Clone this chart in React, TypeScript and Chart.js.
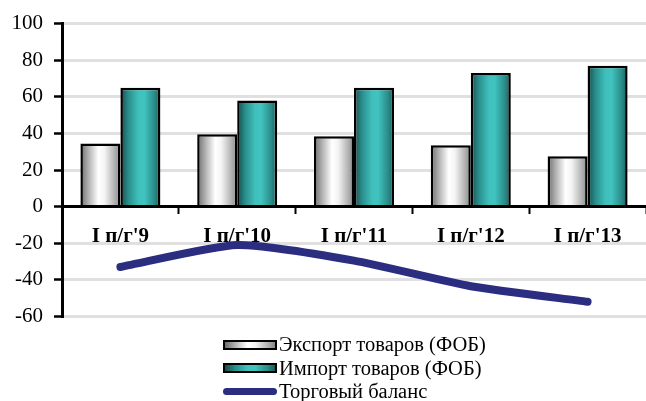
import React, { useEffect, useRef } from 'react';
import { Chart, registerables } from 'chart.js';

Chart.register(...registerables);

const categories = ["I п/г'9", "I п/г'10", "I п/г'11", "I п/г'12", "I п/г'13"];
const exportValues = [34.5, 39.5, 38.5, 33.5, 27.5];
const importValues = [65, 58, 65, 73, 77];
const balanceValues = [-33, -21, -29.5, -43.5, -52];
const seriesNames = ['Экспорт товаров (ФОБ)', 'Импорт товаров (ФОБ)', 'Торговый баланс'];
const yMin = -60;
const yMax = 100;
const yStep = 20;

const greyStops: [number, string][] = [
  [0, '#6c6c6c'],
  [0.2, '#b0b0b0'],
  [0.45, '#ffffff'],
  [0.6, '#f4f4f4'],
  [0.85, '#b3b3b3'],
  [1, '#888888'],
];
const tealStops: [number, string][] = [
  [0, '#164c4b'],
  [0.2, '#2a8e8b'],
  [0.45, '#3fc0bc'],
  [0.6, '#41c3bf'],
  [0.85, '#2a8c89'],
  [1, '#1b5c5a'],
];
const lineColor = '#2b2e80';
const serif = "'Liberation Serif', 'Times New Roman', serif";

const cssGradient = (stops: [number, string][]) =>
  'linear-gradient(to right, ' + stops.map(([o, c]) => `${c} ${o * 100}%`).join(', ') + ')';

const gradientPlugin = {
  id: 'barGradients',
  beforeDatasetsDraw(chart: any) {
    const ctx = chart.ctx;
    [0, 1].forEach((di) => {
      const meta = chart.getDatasetMeta(di);
      const stops = di === 0 ? greyStops : tealStops;
      meta.data.forEach((el: any) => {
        const { x, width } = el.getProps(['x', 'width'], true);
        const g = ctx.createLinearGradient(x - width / 2, 0, x + width / 2, 0);
        stops.forEach(([o, c]) => g.addColorStop(o, c));
        el.options = { ...el.options, backgroundColor: g };
      });
    });
  },
};

export default function App() {
  const canvasRef = useRef<HTMLCanvasElement | null>(null);

  useEffect(() => {
    const canvas = canvasRef.current;
    if (!canvas) return;
    const chart = new Chart(canvas, {
      type: 'bar',
      data: {
        labels: categories,
        datasets: [
          {
            type: 'bar',
            label: seriesNames[0],
            data: exportValues,
            backgroundColor: '#cccccc',
            borderColor: '#000',
            borderWidth: 2.5,
            categoryPercentage: 0.685,
            barPercentage: 1,
            order: 1,
          },
          {
            type: 'bar',
            label: seriesNames[1],
            data: importValues,
            backgroundColor: '#3fc0bc',
            borderColor: '#000',
            borderWidth: 2.5,
            categoryPercentage: 0.685,
            barPercentage: 1,
            order: 2,
          },
          {
            type: 'line',
            label: seriesNames[2],
            data: balanceValues,
            borderColor: lineColor,
            backgroundColor: lineColor,
            borderWidth: 8,
            borderCapStyle: 'round',
            borderJoinStyle: 'round',
            pointRadius: 0,
            tension: 0.2,
            fill: false,
            order: 0,
          } as any,
        ],
      },
      options: {
        responsive: true,
        maintainAspectRatio: false,
        animation: false,
        layout: { padding: { left: 0, right: 0, top: 20, bottom: 16 } },
        plugins: {
          legend: { display: false },
          tooltip: { enabled: false },
        },
        scales: {
          x: {
            position: { y: 0 } as any,
            offset: true,
            grid: {
              offset: true,
              drawOnChartArea: false,
              drawTicks: true,
              tickLength: 6,
              tickWidth: 2,
              tickColor: '#000',
              color: '#000',
            },
            border: { color: '#000', width: 3 },
            ticks: {
              color: '#000',
              font: { family: serif, size: 21, weight: 'bold' },
              padding: 11,
              maxRotation: 0,
              autoSkip: false,
            },
          },
          y: {
            min: yMin,
            max: yMax,
            ticks: {
              stepSize: yStep,
              color: '#000',
              font: { family: serif, size: 21 },
              padding: 11,
            },
            grid: {
              color: (c: any) => (c.tick && c.tick.value === 0 ? 'rgba(0,0,0,0)' : '#e0e0e0'),
              lineWidth: 3,
              tickColor: '#000',
              tickLength: 8,
              tickWidth: 2.5,
            },
            border: { color: '#000', width: 3 },
            afterFit: (s: any) => {
              s.width = 62;
            },
          },
        },
      },
      plugins: [gradientPlugin],
    });
    return () => chart.destroy();
  }, []);

  const markers = [
    { kind: 'box', bg: cssGradient(greyStops) },
    { kind: 'box', bg: cssGradient(tealStops) },
    { kind: 'line', bg: lineColor },
  ];

  return (
    <div style={{ position: 'absolute', left: 0, top: 0, width: 646, height: 401, background: '#fff' }}>
      <div style={{ position: 'absolute', left: 0, top: 0, width: 646, height: 340 }}>
        <canvas ref={canvasRef} />
      </div>
      <div style={{ position: 'absolute', left: 223, top: 333, fontFamily: serif, fontSize: 20.5, color: '#000' }}>
        {seriesNames.map((name, i) => (
          <div key={name} style={{ display: 'flex', alignItems: 'center', height: 23.5, whiteSpace: 'nowrap' }}>
            {markers[i].kind === 'box' ? (
              <div
                style={{
                  width: 54,
                  height: 10,
                  boxSizing: 'border-box',
                  border: '2.5px solid #000',
                  background: markers[i].bg,
                  marginRight: 2,
                }}
              />
            ) : (
              <div
                style={{
                  width: 54,
                  height: 7,
                  borderRadius: 4,
                  background: markers[i].bg,
                  marginRight: 2,
                }}
              />
            )}
            <span>{name}</span>
          </div>
        ))}
      </div>
    </div>
  );
}
